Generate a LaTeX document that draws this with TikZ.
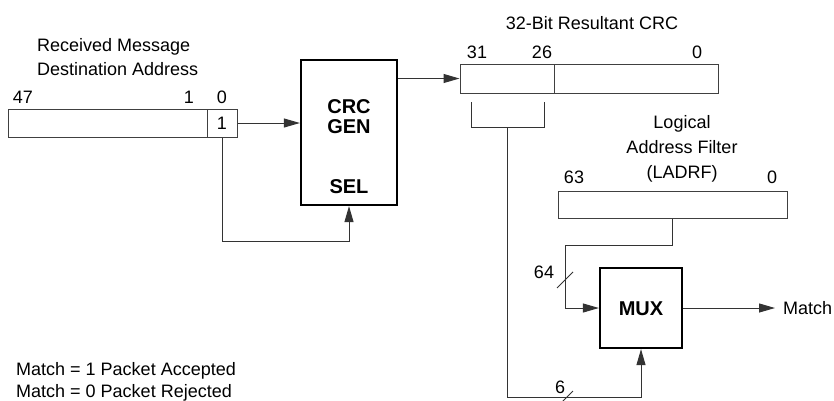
\documentclass[tikz,border=0pt]{standalone}
\usepackage{fontspec}
\setmainfont{Liberation Sans}
\usetikzlibrary{arrows.meta}
\begin{document}
\begin{tikzpicture}[x=1pt,y=-1pt,
  wire/.style={line width=1pt,draw=black!80},
  arr/.style={wire,-{Triangle[length=16pt,width=9pt]}},
  reg/.style={draw=black!75,line width=1pt,rectangle,inner sep=0pt},
  blk/.style={draw=black,line width=2.2pt,rectangle,inner sep=0pt},
  lbl/.style={inner sep=0pt,anchor=base,font=\fontsize{18}{22}\selectfont},
  bl/.style={inner sep=0pt,font=\fontsize{20}{23}\bfseries\selectfont}]
\useasboundingbox (0,0) rectangle (834,400);
% address register
\node[reg,minimum width=229pt,minimum height=28pt] (addr) at (122.5,123) {};
\node[reg,minimum width=30pt,minimum height=28pt,font=\fontsize{18}{22}\selectfont] (addrbit) at (222,123) {1};
\node[lbl] (l47) at (23,103) {47};
\node[lbl] (l1) at (189,103) {1};
\node[lbl] (l0) at (222,103) {0};
\node[lbl,anchor=base west] (rcv1) at (37,51) {Received Message};
\node[lbl,anchor=base west] (rcv2) at (37,75) {Destination Address};
% CRC generator
\node[blk,minimum width=96pt,minimum height=145pt] (crc) at (349,132.5) {};
\node[bl,align=center] (crct) at (349,117) {CRC\\[-3pt]GEN};
\node[bl] (sel) at (349,187) {SEL};
% CRC register
\node[reg,minimum width=258pt,minimum height=29pt] (crcreg) at (589,78.5) {};
\node[reg,minimum width=94pt,minimum height=29pt] (crchi) at (507,78.5) {};
\node[lbl] (c31) at (477,58) {31};
\node[lbl] (c26) at (542,58) {26};
\node[lbl] (c0) at (697,58) {0};
\node[lbl] (crct2) at (592,29) {32-Bit Resultant CRC};
% LADRF
\node[reg,minimum width=229pt,minimum height=27pt] (ladrf) at (672.5,204.5) {};
\node[lbl] (d63) at (574,183) {63};
\node[lbl] (d0) at (772,183) {0};
\node[lbl] (lg1) at (682,128) {Logical};
\node[lbl] (lg2) at (682,153) {Address Filter};
\node[lbl] (lg3) at (682,178) {(LADRF)};
% MUX
\node[blk,minimum width=82pt,minimum height=80pt] (mux) at (641,308) {};
\node[bl] (muxt) at (641,309) {MUX};
\node[lbl,anchor=west] (match) at (783,308) {Match};
\node[lbl] (n64) at (544,278) {64};
\node[lbl] (n6) at (560,393) {6};
\node[lbl,anchor=base west] (m1) at (16,375) {Match = 1 Packet Accepted};
\node[lbl,anchor=base west] (m2) at (16,397) {Match = 0 Packet Rejected};
% connectors
\draw[arr] (addrbit.east) -- (crc.west |- addrbit.east);
\draw[arr] (addrbit.south) -- (222,241) -| (crc.south);
\draw[arr] (crc.east |- crcreg.west) -- (crcreg.west);
\coordinate (bl) at (471,102);
\coordinate (br) at (544,102);
\coordinate (bs) at (507,127);
\coordinate (bb) at (507,397);
\draw[wire] (bl) -- (471,127) -- (544,127) -- (br);
\draw[arr] (bs) -- (bb) -| (mux.south);
\draw[arr] (ladrf.south) -- (672.5,245) -- (565,245) |- (mux.west);
\draw[arr] (mux.east) -- (match.west -| 775,0);
% bus slashes
\draw[wire] (557,288) -- (573,272);
\draw[wire] (562,402) -- (573,391);
\end{tikzpicture}
\end{document}
